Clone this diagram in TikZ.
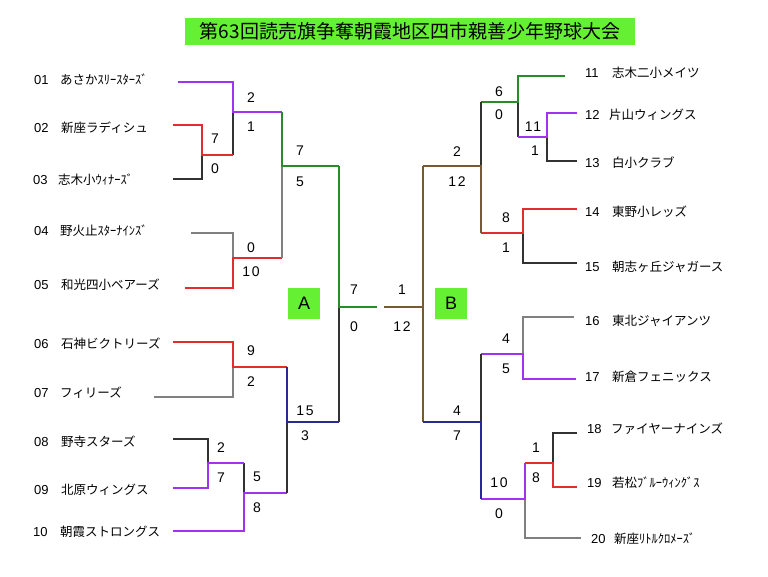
\documentclass[tikz,border=0pt]{standalone}
\usepackage{fontspec}
\setmainfont{Liberation Sans}
\newfontfamily\jp{Noto Sans CJK JP}
\newfontfamily\scorefont[LetterSpace=12]{Liberation Sans}
\definecolor{cpur}{RGB}{160,50,240}
\definecolor{cred}{RGB}{225,45,45}
\definecolor{cgrn}{RGB}{40,140,40}
\definecolor{cblu}{RGB}{40,40,150}
\definecolor{cbrn}{RGB}{120,90,50}
\definecolor{cgry}{RGB}{128,128,128}
\definecolor{cblk}{RGB}{50,50,50}
\definecolor{boxgreen}{RGB}{102,240,51}
\tikzset{
  ln/.style={line width=1.5pt},
  numlab/.style={anchor=west,inner sep=0pt,font=\fontsize{13}{14}\selectfont},
  namelab/.style={anchor=west,inner sep=0pt,font=\fontsize{12.5}{14}\selectfont\jp},
  score/.style={inner sep=0pt,font=\fontsize{14}{15}\selectfont\scorefont},
  blockbox/.style={fill=boxgreen,minimum width=32pt,minimum height=31pt,inner sep=0pt,font=\fontsize{18}{19}\selectfont}
}
\begin{document}
\begin{tikzpicture}[x=1pt,y=-1pt]
\useasboundingbox (0,0) rectangle (768,576);
\fill[white] (0,0) rectangle (768,576);
% title
\node[fill=boxgreen,minimum width=450pt,minimum height=27pt,inner sep=0pt,font=\fontsize{19}{20}\selectfont\jp] (title) at (410,31.5) {第63回読売旗争奪朝霞地区四市親善少年野球大会\hspace{14pt}};
% block boxes
\node[blockbox] (boxA) at (304,303.5) {A};
\node[blockbox] (boxB) at (451,303.5) {B};
% left labels
\node[numlab] (num01) at (34,80) {01}; \node[namelab] (tm01) at (60,80) {あさかｽﾘｰｽﾀｰｽﾞ};
\node[numlab] (num02) at (34,128) {02}; \node[namelab] (tm02) at (61,128) {新座ラディシュ};
\node[numlab] (num03) at (33,180) {03}; \node[namelab] (tm03) at (58,180) {志木小ｳｨﾅｰｽﾞ};
\node[numlab] (num04) at (34,231) {04}; \node[namelab] (tm04) at (60,231) {野火止ｽﾀｰﾅｲﾝｽﾞ};
\node[numlab] (num05) at (34,285) {05}; \node[namelab] (tm05) at (61,285) {和光四小ベアーズ};
\node[numlab] (num06) at (34,344) {06}; \node[namelab] (tm06) at (61,344) {石神ビクトリーズ};
\node[numlab] (num07) at (34,393) {07}; \node[namelab] (tm07) at (60,393) {フィリーズ};
\node[numlab] (num08) at (34,442) {08}; \node[namelab] (tm08) at (61,442) {野寺スターズ};
\node[numlab] (num09) at (34,490) {09}; \node[namelab] (tm09) at (61,490) {北原ウィングス};
\node[numlab] (num10) at (33,532) {10}; \node[namelab] (tm10) at (60,532) {朝霞ストロングス};
% right labels
\node[numlab] (num11) at (585,73) {11}; \node[namelab] (tm11) at (612,73) {志木二小メイツ};
\node[numlab] (num12) at (585,115) {12}; \node[namelab] (tm12) at (609,115) {片山ウィングス};
\node[numlab] (num13) at (585,163) {13}; \node[namelab] (tm13) at (612,163) {白小クラブ};
\node[numlab] (num14) at (585,212) {14}; \node[namelab] (tm14) at (612,212) {東野小レッズ};
\node[numlab] (num15) at (585,267) {15}; \node[namelab] (tm15) at (612,267) {朝志ヶ丘ジャガース};
\node[numlab] (num16) at (585,321) {16}; \node[namelab] (tm16) at (612,321) {東北ジャイアンツ};
\node[numlab] (num17) at (585,377) {17}; \node[namelab] (tm17) at (612,377) {新倉フェニックス};
\node[numlab] (num18) at (587,429) {18}; \node[namelab] (tm18) at (611,429) {ファイヤーナインズ};
\node[numlab] (num19) at (587,483) {19}; \node[namelab] (tm19) at (612,483) {若松ﾌﾞﾙｰｳｨﾝｸﾞｽ};
\node[numlab] (num20) at (591,539) {20}; \node[namelab] (tm20) at (614,539) {新座ﾘﾄﾙｸﾛﾒｰｽﾞ};
% left coordinates
\coordinate (e01) at (178,82); \coordinate (e02) at (173,125); \coordinate (e03) at (173,179);
\coordinate (e04) at (191,233); \coordinate (e05) at (185,288); \coordinate (e06) at (173,342);
\coordinate (e07) at (154,397); \coordinate (e08) at (173,439); \coordinate (e09) at (173,488);
\coordinate (e10) at (173,531);
\coordinate (m23) at (202,155); \coordinate (o23) at (233,155);
\coordinate (m123) at (233,112); \coordinate (o123) at (282,112);
\coordinate (m45) at (233,258); \coordinate (o45) at (282,258);
\coordinate (mA1) at (282,166); \coordinate (oA1) at (339,166);
\coordinate (m67) at (233,367); \coordinate (o67) at (287,367);
\coordinate (m89) at (208,463); \coordinate (o89) at (244,463);
\coordinate (m910) at (244,493); \coordinate (o910) at (287,493);
\coordinate (mA2) at (287,422); \coordinate (oA2) at (339,422);
\coordinate (mA) at (339,307); \coordinate (oA) at (377,307);
% right coordinates
\coordinate (f11) at (565,76); \coordinate (f12) at (577,113); \coordinate (f13) at (577,161);
\coordinate (f14) at (577,209); \coordinate (f15) at (577,263); \coordinate (f16) at (574,317);
\coordinate (f17) at (576,379); \coordinate (f18) at (577,433); \coordinate (f19) at (577,487);
\coordinate (f20) at (581,538);
\coordinate (n1213) at (547,137); \coordinate (p1213) at (518,137);
\coordinate (n11) at (518,102); \coordinate (p11) at (481,102);
\coordinate (n1415) at (523,233); \coordinate (p1415) at (481,233);
\coordinate (nB1) at (481,166); \coordinate (pB1) at (423,166);
\coordinate (n1617) at (523,354); \coordinate (p1617) at (481,354);
\coordinate (n1819) at (553,463); \coordinate (p1819) at (525,463);
\coordinate (n20) at (525,499); \coordinate (p20) at (481,499);
\coordinate (nB2) at (481,422); \coordinate (pB2) at (423,422);
\coordinate (nB) at (423,307); \coordinate (pB) at (384,307);
% left lines
\draw[ln,cgry] (e04) -| (m45);
\draw[ln,cblk] (e03) -| (m23);
\draw[ln,cblk] (o23) -- (m123);
\draw[ln,cpur] (e01) -| (m123) -- (o123);
\draw[ln,cred] (e02) -| (m23) -- (o23);
\draw[ln,cred] (e05) -| (m45) -- (o45);
\draw[ln,cgry] (o45) -- (mA1);
\draw[ln,cgrn] (o123) -- (mA1) -- (oA1);
\draw[ln,cblk] (oA2) -- (mA);
\draw[ln,cgrn] (oA1) -- (mA) -- (oA);
\draw[ln,cgry] (e07) -| (m67);
\draw[ln,cred] (e06) -| (m67) -- (o67);
\draw[ln,cblk] (e08) -| (m89);
\draw[ln,cblk] (o89) -- (m910);
\draw[ln,cpur] (e09) -| (m89) -- (o89);
\draw[ln,cpur] (e10) -| (m910) -- (o910);
\draw[ln,cblk] (o910) -- (mA2);
\draw[ln,cblu] (o67) -- (mA2) -- (oA2);
% right lines
\draw[ln,cblk] (f13) -| (n1213);
\draw[ln,cblk] (p1213) -- (n11);
\draw[ln,cpur] (f12) -| (n1213) -- (p1213);
\draw[ln,cgrn] (f11) -| (n11) -- (p11);
\draw[ln,cblk] (p11) -- (nB1);
\draw[ln,cblk] (f15) -| (n1415);
\draw[ln,cred] (f14) -| (n1415) -- (p1415);
\draw[ln,cbrn] (p1415) -- (nB1) -- (pB1);
\draw[ln,cbrn] (pB2) -- (nB);
\draw[ln,cbrn] (pB1) -- (nB) -- (pB);
\draw[ln,cgry] (f16) -| (n1617);
\draw[ln,cpur] (f17) -| (n1617) -- (p1617);
\draw[ln,cblk] (p1617) -- (nB2);
\draw[ln,cblk] (f18) -| (n1819);
\draw[ln,cred] (f19) -| (n1819) -- (p1819);
\draw[ln,cgry] (f20) -| (n20);
\draw[ln,cpur] (p1819) -- (n20) -- (p20);
\draw[ln,cblu] (p20) -- (nB2) -- (pB2);
% scores left
\node[score] (s1) at (215,139) {7}; \node[score] (s2) at (215,169) {0};
\node[score] (s3) at (251,98) {2}; \node[score] (s4) at (251,127) {1};
\node[score] (s5) at (251,248) {0}; \node[score] (s6) at (251,272) {10};
\node[score] (s7) at (300,151) {7}; \node[score] (s8) at (300,182) {5};
\node[score] (s9) at (251,351) {9}; \node[score] (s10) at (251,382) {2};
\node[score] (s11) at (221,448) {2}; \node[score] (s12) at (221,478) {7};
\node[score] (s13) at (257,477) {5}; \node[score] (s14) at (257,508) {8};
\node[score] (s15) at (305,411) {15}; \node[score] (s16) at (305,436) {3};
\node[score] (s17) at (354,290) {7}; \node[score] (s18) at (354,327) {0};
% scores right
\node[score] (s19) at (402,290) {1}; \node[score] (s20) at (402,327) {12};
\node[score] (s21) at (499,92) {6}; \node[score] (s22) at (499,115) {0};
\node[score] (s23) at (533,127) {11}; \node[score] (s24) at (535,151) {1};
\node[score] (s25) at (457,152) {2}; \node[score] (s26) at (457,182) {12};
\node[score] (s27) at (506,218) {8}; \node[score] (s28) at (506,248) {1};
\node[score] (s29) at (506,339) {4}; \node[score] (s30) at (506,369) {5};
\node[score] (s31) at (457,411) {4}; \node[score] (s32) at (457,436) {7};
\node[score] (s33) at (536,448) {1}; \node[score] (s34) at (536,478) {8};
\node[score] (s35) at (499,483) {10}; \node[score] (s36) at (499,514) {0};
\end{tikzpicture}
\end{document}
